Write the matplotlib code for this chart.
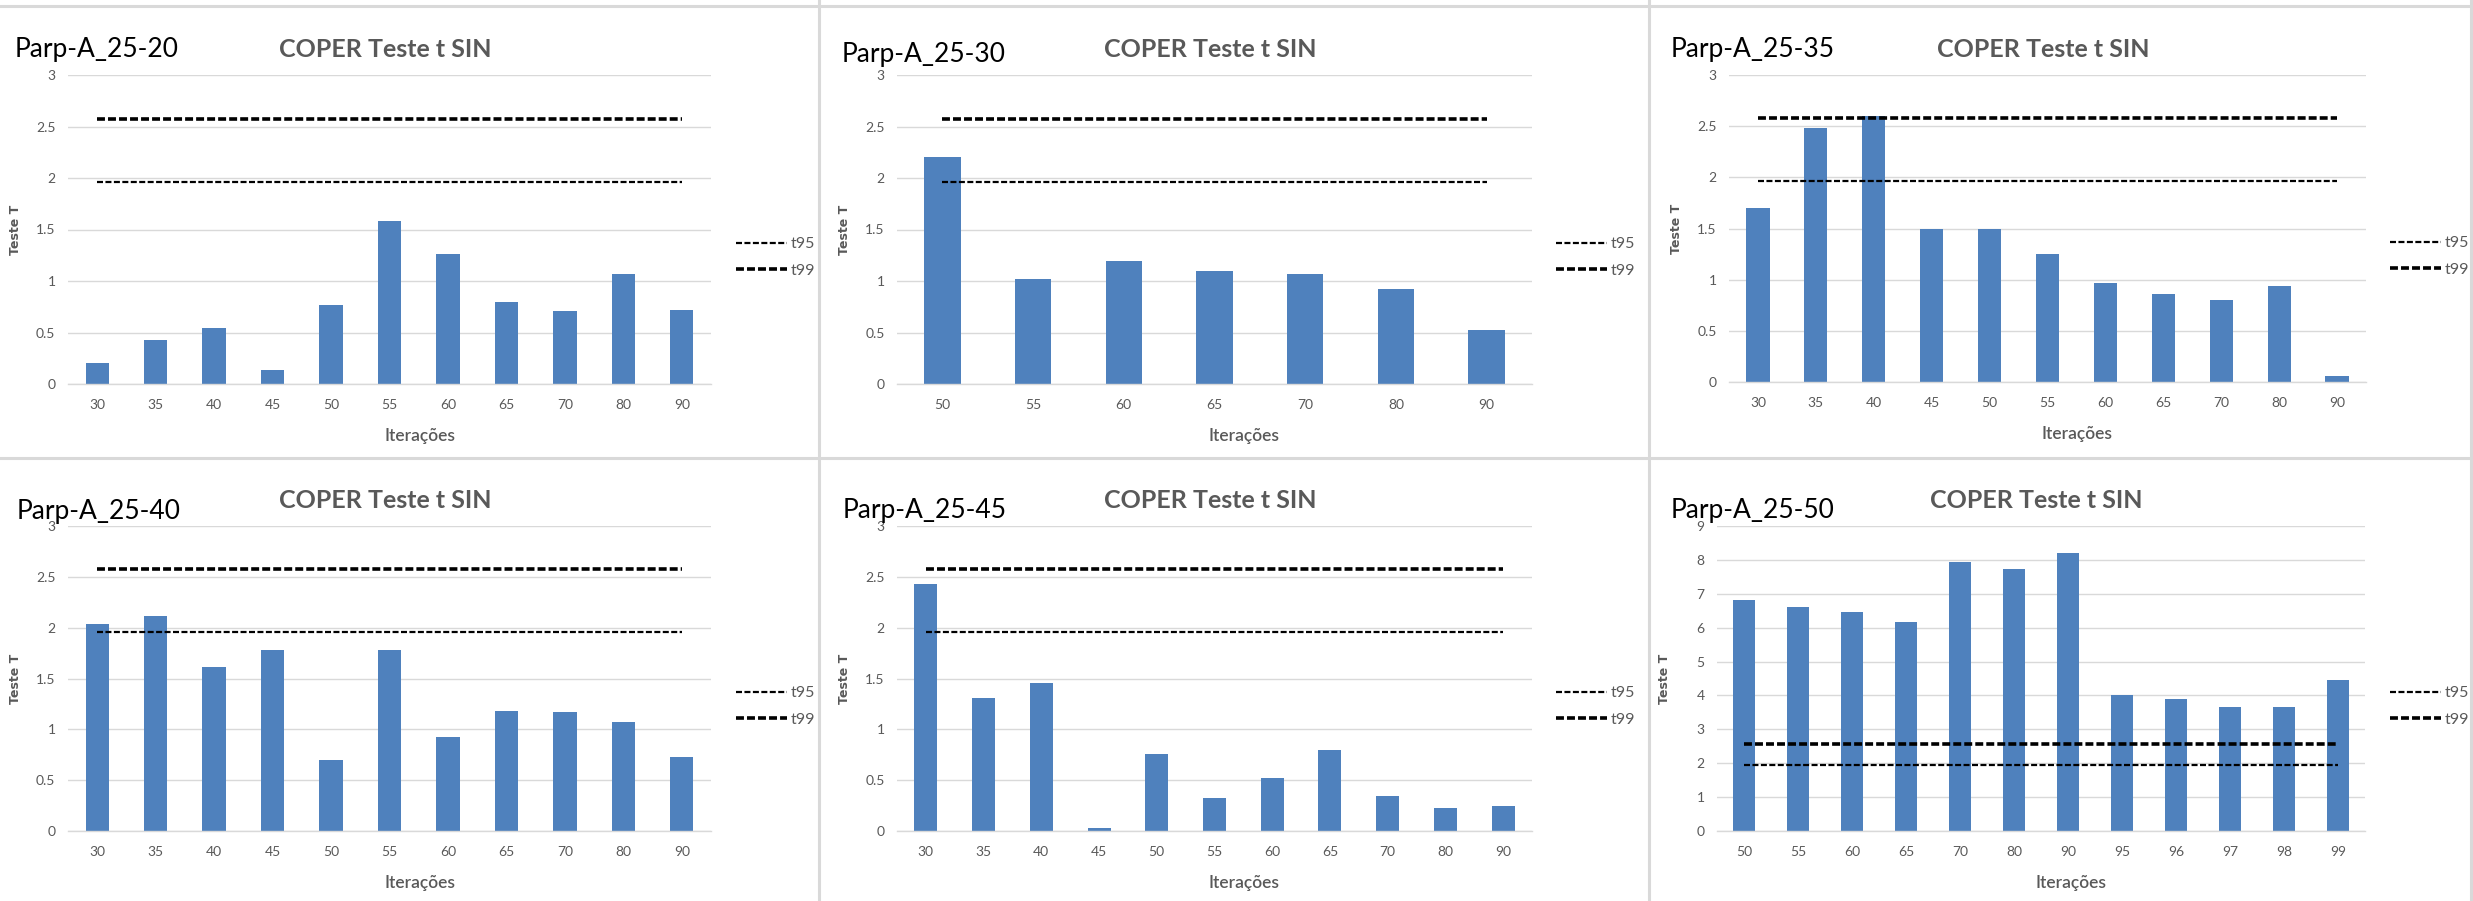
import numpy as np
import matplotlib
matplotlib.use('Agg')
import matplotlib.pyplot as plt
from matplotlib.lines import Line2D

# ---- data ----
iter_20 = ['30', '35', '40', '45', '50', '55', '60', '65', '70', '80', '90']
t_20 = [0.20, 0.43, 0.54, 0.14, 0.77, 1.58, 1.26, 0.80, 0.71, 1.07, 0.72]

iter_30 = ['50', '55', '60', '65', '70', '80', '90']
t_30 = [2.20, 1.02, 1.19, 1.10, 1.07, 0.92, 0.52]

iter_35 = ['30', '35', '40', '45', '50', '55', '60', '65', '70', '80', '90']
t_35 = [1.70, 2.48, 2.60, 1.50, 1.50, 1.25, 0.97, 0.86, 0.80, 0.94, 0.06]

iter_40 = ['30', '35', '40', '45', '50', '55', '60', '65', '70', '80', '90']
t_40 = [2.04, 2.11, 1.61, 1.78, 0.70, 1.78, 0.92, 1.18, 1.17, 1.07, 0.73]

iter_45 = ['30', '35', '40', '45', '50', '55', '60', '65', '70', '80', '90']
t_45 = [2.43, 1.31, 1.46, 0.03, 0.76, 0.32, 0.52, 0.80, 0.34, 0.23, 0.25]

iter_50 = ['50', '55', '60', '65', '70', '80', '90', '95', '96', '97', '98', '99']
t_50 = [6.82, 6.60, 6.46, 6.16, 7.95, 7.73, 8.20, 4.00, 3.89, 3.67, 3.65, 4.46]

names = ['Parp-A_25-20', 'Parp-A_25-30', 'Parp-A_25-35',
         'Parp-A_25-40', 'Parp-A_25-45', 'Parp-A_25-50']
t95 = 1.96
t99 = 2.576

# ---- layout (pixels of the 2473x901 picture) ----
W, H = 2473, 901
BLUE = '#4F81BD'
GREY = '#595959'
LIGHT = '#D9D9D9'
TXT_FONT = ['Lato', 'DejaVu Sans']

# plot box: left, top, right, bottom
boxes = [(68, 75, 711, 384), (897, 75, 1532, 384), (1729, 75, 2366, 382),
         (68, 526, 711, 831), (897, 526, 1532, 831), (1717, 526, 2365, 831)]
# name label (left, baseline), title baseline, legend (x, y of t95, y of t99)
name_pos = [(15, 57), (842, 62), (1671, 57), (17, 519), (843, 518), (1671, 518)]
title_base = [57, 57, 57, 508, 508, 508]
legend_pos = [(736, 243, 272), (1556, 243, 272), (2390, 242, 271),
              (736, 692, 721), (1556, 692, 721), (2390, 692, 721)]
ymax = [3, 3, 3, 3, 3, 9]
ystep = [0.5, 0.5, 0.5, 0.5, 0.5, 1]

cats = [iter_20, iter_30, iter_35, iter_40, iter_45, iter_50]
vals = [t_20, t_30, t_35, t_40, t_45, t_50]


def fx(x):
    return x / W


def fy(y):
    return 1 - y / H


fig = plt.figure(figsize=(W / 100, H / 100), dpi=100)
fig.patch.set_facecolor('white')

# grey frames round the pasted charts
frame = dict(color=LIGHT, lw=2.2, transform=fig.transFigure)
fig.add_artist(Line2D([0, 1], [fy(6), fy(6)], **frame))
fig.add_artist(Line2D([0, 1], [fy(458), fy(458)], **frame))
fig.add_artist(Line2D([fx(819), fx(819)], [0, 1], **frame))
fig.add_artist(Line2D([fx(1649), fx(1649)], [0, 1], **frame))
fig.add_artist(Line2D([fx(2471), fx(2471)], [0, 1], **frame))

for i in range(6):
    l, t, r, b = boxes[i]
    ax = fig.add_axes([fx(l), fy(b), fx(r - l), (b - t) / H])
    n = len(cats[i])
    x = np.arange(n)

    ax.bar(x, vals[i], width=0.4, color=BLUE, zorder=2)
    l95, = ax.plot(x, [t95] * n, color='black', lw=1.6,
                   linestyle=(0, (2.7, 1.1)), zorder=3, label='t95')
    l99, = ax.plot(x, [t99] * n, color='black', lw=2.6,
                   linestyle=(0, (2.2, 0.85)), zorder=3, label='t99')

    ax.set_xlim(-0.5, n - 0.5)
    ax.set_ylim(0, ymax[i])
    ax.set_yticks(np.arange(0, ymax[i] + 0.001, ystep[i]))
    ax.set_yticklabels(['{:g}'.format(v) for v in ax.get_yticks()])
    ax.set_xticks(x)
    ax.set_xticklabels(cats[i])
    ax.tick_params(length=0, labelsize=10, labelcolor=GREY)
    ax.tick_params(axis='y', pad=9)
    ax.tick_params(axis='x', pad=11)
    for lab in ax.get_xticklabels() + ax.get_yticklabels():
        lab.set_family(TXT_FONT)

    ax.grid(axis='y', color=LIGHT, lw=1.0, zorder=0)
    ax.set_axisbelow(True)
    for s in ['top', 'right', 'left']:
        ax.spines[s].set_visible(False)
    ax.spines['bottom'].set_color(LIGHT)
    ax.spines['bottom'].set_linewidth(1.0)

    ax.set_ylabel('Teste T', fontsize=9, fontweight='bold', color=GREY,
                  family='DejaVu Sans')
    ax.yaxis.set_label_coords(-46 / (r - l), 0.5)
    ax.set_xlabel('Iterações', fontsize=12.5, fontweight='semibold',
                  color=GREY, family=TXT_FONT)
    ax.xaxis.set_label_coords(0.547, -44 / (b - t))

    # title and series name
    ax.text(0.493, (b - title_base[i]) / (b - t), 'COPER Teste t SIN',
            transform=ax.transAxes, ha='center', va='baseline', fontsize=18,
            fontweight='bold', color=GREY, family=TXT_FONT)
    nx, ny = name_pos[i]
    fig.text(fx(nx), fy(ny), names[i], ha='left', va='baseline',
             fontsize=19, color='black', family=TXT_FONT)

    lx, ly1, ly2 = legend_pos[i]
    leg = ax.legend(handles=[l95, l99], loc='center left',
                    bbox_to_anchor=(fx(lx), fy((ly1 + ly2) / 2)),
                    bbox_transform=fig.transFigure, frameon=False,
                    handlelength=3.2, handletextpad=0.2,
                    labelspacing=0.8, borderpad=0, borderaxespad=0,
                    prop={'family': TXT_FONT, 'size': 11.5})
    for txt in leg.get_texts():
        txt.set_color(GREY)

fig.savefig('out.png', dpi=100, facecolor='white')
